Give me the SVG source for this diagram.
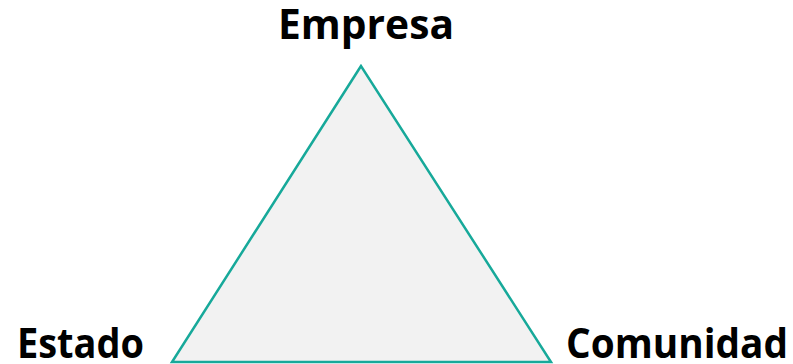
<svg xmlns="http://www.w3.org/2000/svg" width="793" height="364" viewBox="0 0 793 364">
<style>
.lbl{font-family:"Open Sans","Liberation Sans",sans-serif;font-weight:bold;font-size:41px;fill:#000}
</style>
<rect width="793" height="364" fill="#fff"/>
<g id="triangle">
<polygon points="361,66 172,362 551,362" fill="#f2f2f2" stroke="#17a99a" stroke-width="2.5" stroke-linejoin="miter"/>
</g>
<g id="empresa"><text class="lbl" x="278" y="39" textLength="176" lengthAdjust="spacingAndGlyphs">Empresa</text></g>
<g id="estado"><text class="lbl" x="17" y="358" textLength="127" lengthAdjust="spacingAndGlyphs">Estado</text></g>
<g id="comunidad"><text class="lbl" x="566" y="358" textLength="222" lengthAdjust="spacingAndGlyphs">Comunidad</text></g>
<g id="connectors"/>
</svg>
